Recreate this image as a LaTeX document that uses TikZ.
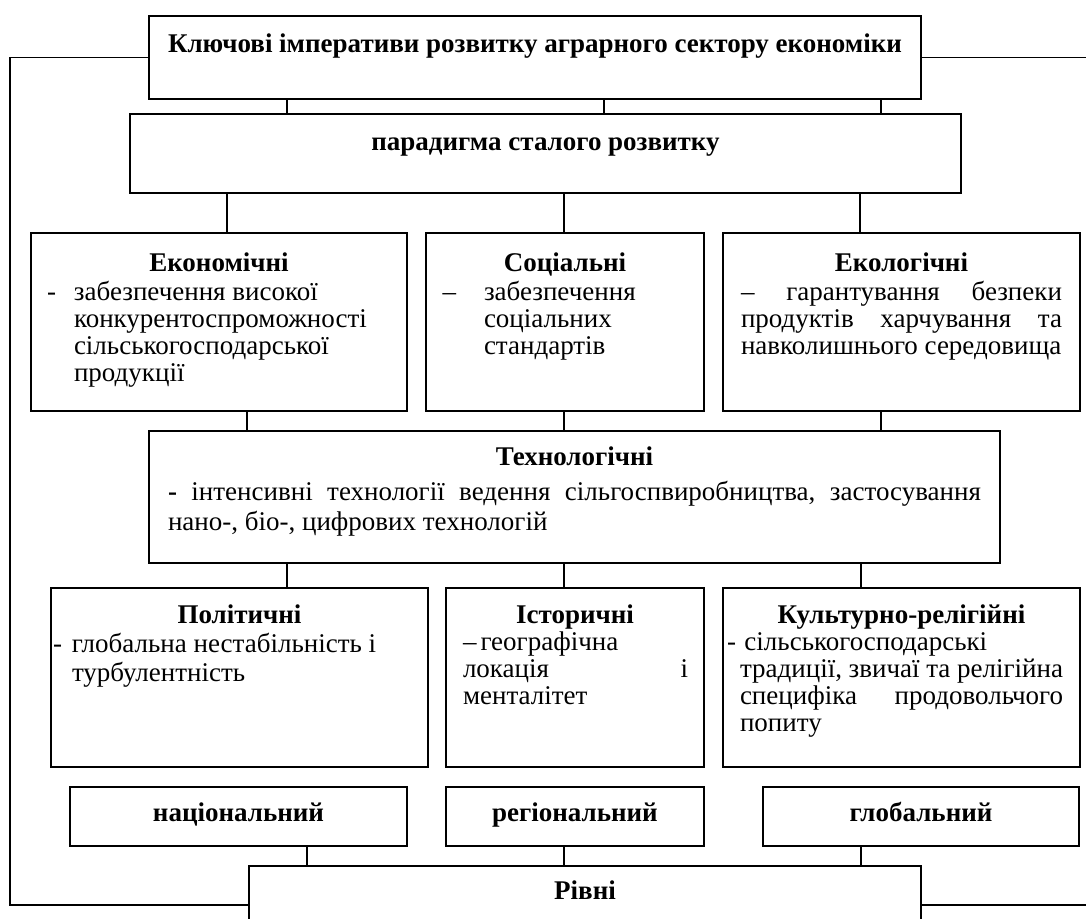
\documentclass[tikz,border=0pt]{standalone}
\usepackage{fontspec}
\setmainfont{Liberation Serif}

\tikzset{
  block/.style={draw, line width=1pt, inner sep=0pt, anchor=north west},
  link/.style={line width=0.65pt},
}
% fixed box, text set from the top
\newcommand{\blocktext}[4]{\parbox[c][#2][t]{#1}{\fontsize{13.5pt}{13.5pt}\selectfont\vspace{#3}#4}}
\newcommand{\heading}[1]{{\centering\strut\textbf{#1}\par}}
\newcommand{\bodylines}[3]{{\leftskip=#1\rightskip=#2 plus 1fil\relax\strut#3\par}}

\begin{document}
\begin{tikzpicture}[x=0.5pt,y=-0.5pt]
\useasboundingbox (0,0) rectangle (1086,918);

% top
\node[block] (title) at (148,15) {\blocktext{386pt}{41.5pt}{8.55pt}{%
  \heading{Ключові імперативи розвитку аграрного сектору економіки}}};
\node[block] (paradigm) at (129,113) {\blocktext{415.5pt}{39.5pt}{8.55pt}{%
  \heading{парадигма сталого розвитку}}};

% first row
\node[block] (econ) at (30,232) {\blocktext{188pt}{89pt}{9.55pt}{%
  \heading{Економічні}%
  \bodylines{21.5pt}{4pt}{\llap{-\hspace{9pt}}забезпечення високої\\ конкурентоспроможності\\ сільськогосподарської\\ продукції}}};
\node[block] (social) at (425,232) {\blocktext{139pt}{89pt}{9.55pt}{%
  \heading{Соціальні}%
  \bodylines{29pt}{4pt}{\llap{–\hspace{14pt}}забезпечення\\ соціальних\\ стандартів}}};
\node[block] (ecol) at (722,232) {\blocktext{178.5pt}{89pt}{9.55pt}{%
  \heading{Екологічні}%
  \bodylines{9pt}{9pt}{– \hfill гарантування \hfill безпеки\\ продуктів \hfill харчування \hfill та\\ навколишнього середовища}}};

% middle
\node[block] (tech) at (148,430) {\blocktext{425.5pt}{66pt}{7.55pt}{%
  \heading{Технологічні}\vspace{3pt}%
  \bodylines{9.5pt}{9.5pt}{\textbf{-} \hfill інтенсивні \hfill технології \hfill ведення \hfill сільгоспвиробництва, \hfill застосування\\[0.5pt] нано-, біо-, цифрових технологій}}};

% second row
\node[block] (polit) at (50,587) {\blocktext{188.5pt}{89.5pt}{8.05pt}{%
  \heading{Політичні}%
  \bodylines{10.5pt}{4pt}{\llap{-\hspace{5pt}}глобальна нестабільність і\\ турбулентність}}};
\node[block] (istor) at (445,587) {\blocktext{129pt}{89.5pt}{8.05pt}{%
  \heading{Історичні}%
  \bodylines{8.5pt}{8pt}{–\hspace{2pt}географічна\\ локація \hfill і\\ менталітет}}};
\node[block] (cult) at (722,587) {\blocktext{178.5pt}{89.5pt}{8.05pt}{%
  \heading{Культурно-релігійні}%
  \bodylines{8.5pt}{8.5pt}{\llap{-\hspace{2pt}}\,сільськогосподарські\\ традиції, \hfill звичаї \hfill та \hfill релігійна\\ специфіка \hfill продовольчого\\ попиту}}};

% levels
\node[block] (nat) at (69,786) {\blocktext{168.5pt}{29.5pt}{7.55pt}{\heading{національний}}};
\node[block] (reg) at (445,786) {\blocktext{129pt}{29.5pt}{7.55pt}{\heading{регіональний}}};
\node[block] (glob) at (762,786) {\blocktext{158pt}{29.5pt}{7.55pt}{\heading{глобальний}}};
\node[block] (rivni) at (248,865) {\blocktext{336pt}{39pt}{7.05pt}{\heading{Рівні}}};

% connectors
\draw[link] (287,0 |- title.south) -- (287,0 |- paradigm.north)
            (604,0 |- title.south) -- (604,0 |- paradigm.north)
            (881,0 |- title.south) -- (881,0 |- paradigm.north);
\draw[link] (227,0 |- paradigm.south) -- (227,0 |- econ.north)
            (564,0 |- paradigm.south) -- (564,0 |- social.north)
            (860,0 |- paradigm.south) -- (860,0 |- ecol.north);
\draw[link] (247,0 |- econ.south) -- (247,0 |- tech.north)
            (564,0 |- social.south) -- (564,0 |- tech.north)
            (881,0 |- ecol.south) -- (881,0 |- tech.north);
\draw[link] (287,0 |- tech.south) -- (287,0 |- polit.north)
            (564,0 |- tech.south) -- (564,0 |- istor.north)
            (861,0 |- tech.south) -- (861,0 |- cult.north);
\draw[link] (307,0 |- nat.south) -- (307,0 |- rivni.north)
            (564,0 |- reg.south) -- (564,0 |- rivni.north)
            (861,0 |- glob.south) -- (861,0 |- rivni.north);

% outer frame
\coordinate (leftrail) at (10,480);
\coordinate (rightrail) at (1100,480);
\draw[link] (title.west) -| (leftrail) |- (rivni.west);
\draw[link] (title.east) -| (rightrail) |- (rivni.east);
\end{tikzpicture}
\end{document}
